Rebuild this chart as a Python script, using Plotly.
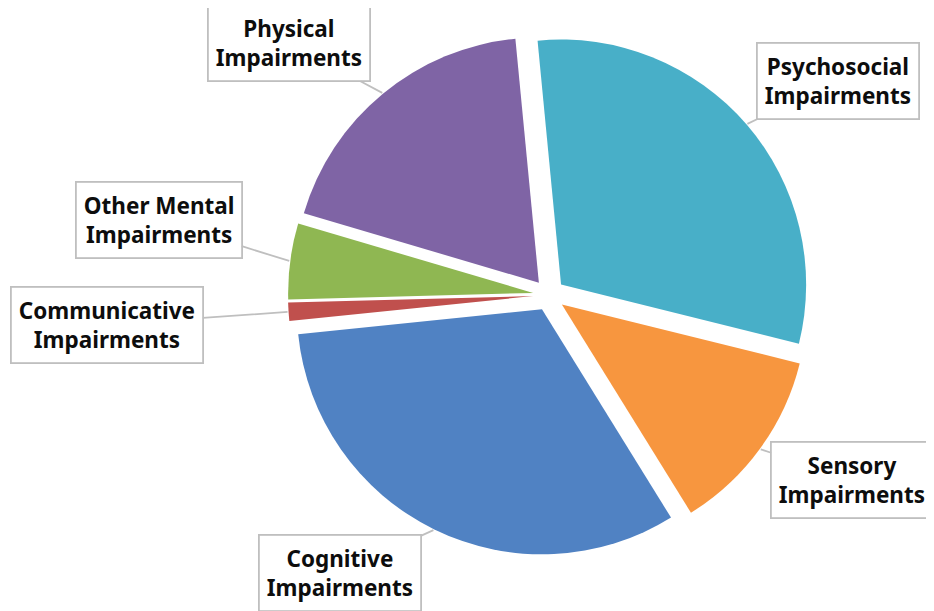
import math
import plotly.graph_objects as go

# ---- data ----
categories = ["Psychosocial<br>Impairments", "Sensory<br>Impairments", "Cognitive<br>Impairments",
              "Communicative<br>Impairments", "Other Mental<br>Impairments", "Physical<br>Impairments"]
values = [30.4, 12.3, 32.2, 1.2, 5.0, 18.9]
colors = ["#48AFC8", "#F7963F", "#5082C3", "#C0504D", "#8FB752", "#7F64A5"]

# ---- layout constants ----
W, H = 934, 611
CX, CY = 541, 287          # pie centre (pixels, from top-left)
HALF = 261.0               # half-size of pie domain (pixels)
PULL = 0.065
ROT = -5.5
BORDERPAD, BORDERW = 7, 1.8
OFF = BORDERPAD + BORDERW  # plotly shifts bordered boxes by this amount
# label box centres (pixels)
label_pos = [(838.5, 81.5), (853, 480.5), (340.5, 574), (107.5, 325.5), (159.5, 221), (289.5, 44)]

domain_x = [(CX - HALF) / W, (CX + HALF) / W]
domain_y = [(H - CY - HALF) / H, (H - CY + HALF) / H]

fig = go.Figure(go.Pie(
    labels=categories, values=values, sort=False, direction="clockwise",
    rotation=ROT, pull=[PULL] * len(values),
    marker=dict(colors=colors, line=dict(width=0)),
    textinfo="none", hoverinfo="skip", showlegend=False,
    domain=dict(x=domain_x, y=domain_y),
))

total = sum(values)
cum = 0.0
annotations = []
for lab, v, (bx, by) in zip(categories, values, label_pos):
    mid = math.radians(ROT + (cum + v / 2) / total * 360)
    cum += v
    R = HALF + 1
    tx = CX + R * math.sin(mid)
    ty = CY - R * math.cos(mid)
    annotations.append(dict(
        x=tx / W, y=1 - ty / H, xref="paper", yref="paper",
        ax=bx - OFF - tx, ay=by - OFF - ty, axref="pixel", ayref="pixel",
        text="<b>" + lab + "</b>", showarrow=True, arrowhead=0,
        arrowcolor="#BFBFBF", arrowwidth=1.8,
        bordercolor="#BFBFBF", borderwidth=BORDERW, borderpad=BORDERPAD, bgcolor="white",
        font=dict(family="Noto Sans", size=22.5, color="#0D0D0D"), align="center",
    ))

fig.update_layout(
    width=W, height=H, margin=dict(l=0, r=0, t=0, b=0),
    paper_bgcolor="white", plot_bgcolor="white",
    annotations=annotations,
)

fig.write_html("out.html")
